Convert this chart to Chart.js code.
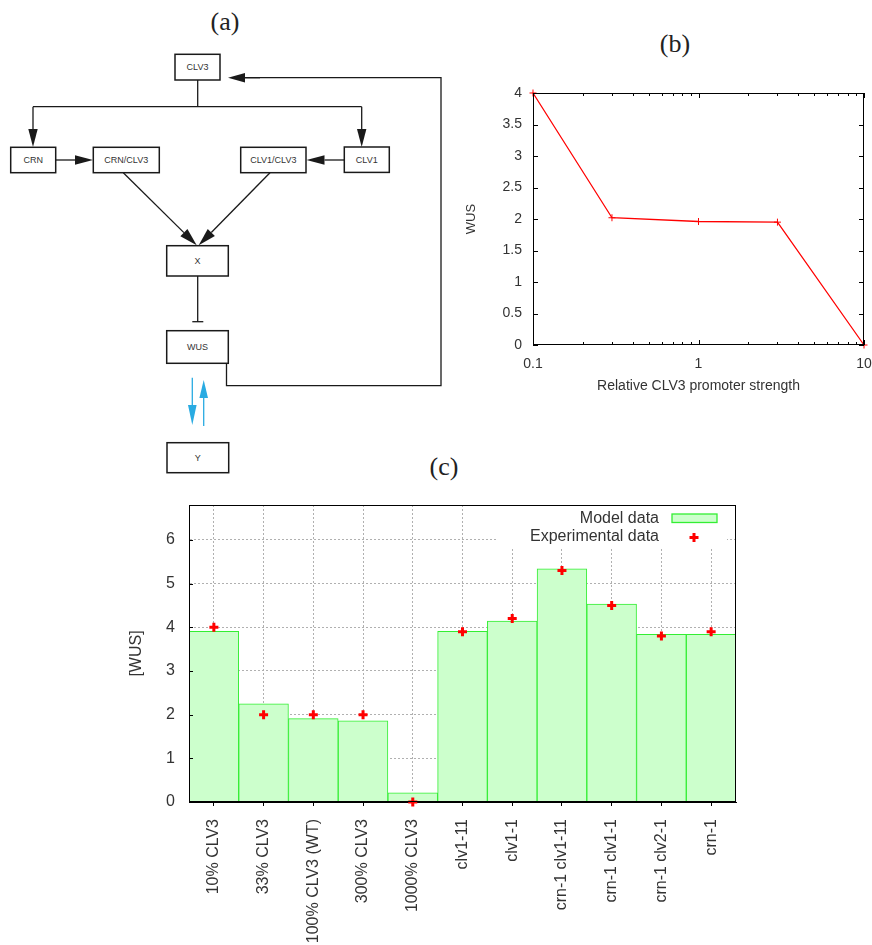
<!DOCTYPE html>
<html>
<head>
<meta charset="utf-8">
<script src="https://cdn.jsdelivr.net/npm/chart.js@4/dist/chart.umd.min.js"></script>
<style>
  html, body { margin: 0; padding: 0; background: #fff; }
  #page { position: relative; width: 872px; height: 945px; overflow: hidden; }
  .panel-title { position: absolute; font-family: 'Liberation Serif', 'DejaVu Serif', serif; font-size: 26px; color: #222;
                 transform: translate(-50%, -50%); line-height: 1; }
  canvas { position: absolute; }
  #diagram { position: absolute; left: 0; top: 0; }
</style>
</head>
<body>
<div id="page">
  <div class="panel-title" style="left:225px; top:22px;">(a)</div>
  <div class="panel-title" style="left:675px; top:44px;">(b)</div>
  <div class="panel-title" style="left:444px; top:467px;">(c)</div>
  <svg id="diagram" width="460" height="480" xmlns="http://www.w3.org/2000/svg"></svg>
  <canvas id="chartB" width="412" height="340" style="left:460px; top:70px;"></canvas>
  <canvas id="chartC" width="660" height="455" style="left:100px; top:490px;"></canvas>
</div>
<script>
// panel (b): WUS against relative CLV3 promoter strength
const promoterStrength = [0.1, 0.3, 1, 3, 10];
const wusResponse = [4.0, 2.02, 1.96, 1.95, 0.0];
const strengthTicks = [0.1, 1, 10];

// panel (c): model vs experiment per genotype
const genotypes = ['10% CLV3', '33% CLV3', '100% CLV3 (WT)', '300% CLV3', '1000% CLV3',
  'clv1-11', 'clv1-1', 'crn-1 clv1-11', 'crn-1 clv1-1', 'crn-1 clv2-1', 'crn-1'];
const modelWus = [3.91, 2.25, 1.91, 1.86, 0.21, 3.91, 4.14, 5.34, 4.53, 3.84, 3.84];
const experimentalWus = [4.0, 2.0, 2.0, 2.0, 0.0, 3.9, 4.2, 5.3, 4.5, 3.8, 3.9];

// ---- panel (a): network diagram ----
const svg = document.getElementById('diagram');
const NS = 'http://www.w3.org/2000/svg';
function el(tag, attrs, text) {
  const e = document.createElementNS(NS, tag);
  for (const k in attrs) e.setAttribute(k, attrs[k]);
  if (text) e.textContent = text;
  svg.appendChild(e);
  return e;
}
function node(label, x, y, w, h) {
  el('rect', { x, y, width: w, height: h, fill: '#fff', stroke: '#1a1a1a', 'stroke-width': 1.5 });
  el('text', { x: x + w / 2, y: y + h / 2 + 3, 'text-anchor': 'middle',
    'font-family': "'Liberation Sans', Arial, sans-serif", 'font-size': 9, fill: '#333' }, label);
}
function arrow(x1, y1, x2, y2, color, len, half) {
  const dx = x2 - x1, dy = y2 - y1, d = Math.hypot(dx, dy);
  const ux = dx / d, uy = dy / d;
  const bx = x2 - ux * len, by = y2 - uy * len;
  el('line', { x1, y1, x2: bx, y2: by, stroke: color, 'stroke-width': 1.3 });
  const pts = [[x2, y2], [bx - uy * half, by + ux * half], [bx + uy * half, by - ux * half]];
  el('polygon', { points: pts.map(p => p.join(',')).join(' '), fill: color });
}
const ink = '#1a1a1a';
el('polyline', { points: '197.7,80 197.7,106.7', fill: 'none', stroke: ink, 'stroke-width': 1.3 });
el('line', { x1: 33, y1: 106.7, x2: 361.7, y2: 106.7, stroke: ink, 'stroke-width': 1.3 });
arrow(33, 106.7, 33, 147, ink, 18, 4.7);
arrow(361.7, 106.7, 361.7, 147, ink, 18, 4.7);
arrow(55.7, 160, 93, 160, ink, 18, 4.7);
arrow(344.3, 160, 306.5, 160, ink, 18, 4.7);
arrow(123.3, 172.7, 196.7, 245.3, ink, 18, 5);
arrow(270, 172.7, 198.7, 245.3, ink, 18, 5);
el('line', { x1: 197.7, y1: 276, x2: 197.7, y2: 321.7, stroke: ink, 'stroke-width': 1.3 });
el('line', { x1: 192.3, y1: 321.7, x2: 203.3, y2: 321.7, stroke: ink, 'stroke-width': 1.3 });
el('polyline', { points: '226.5,363.3 226.5,385.7 441,385.7 441,77.7 244,77.7', fill: 'none', stroke: ink, 'stroke-width': 1.3 });
arrow(260, 77.7, 228, 77.7, ink, 17, 4.7);
arrow(192.3, 377.7, 192.3, 425, '#29abe2', 20, 4.3);
arrow(203.7, 426, 203.7, 380, '#29abe2', 18, 4.3);
node('CLV3', 175, 54.3, 45, 25.7);
node('CRN', 10.7, 147.3, 45, 25.4);
node('CRN/CLV3', 93.3, 147.3, 66, 25.4);
node('CLV1/CLV3', 240.7, 147.3, 65.3, 25.4);
node('CLV1', 344.3, 147, 45, 25.4);
node('X', 166.7, 245.7, 61.6, 30.3);
node('WUS', 166.7, 330.7, 61.6, 32.6);
node('Y', 167, 442.7, 61.7, 30);

// ---- charts ----
Chart.defaults.font.family = "'Liberation Sans', Arial, sans-serif";
Chart.defaults.color = '#333';

function line(ctx, x1, y1, x2, y2) {
  ctx.beginPath(); ctx.moveTo(x1, y1); ctx.lineTo(x2, y2); ctx.stroke();
}

// gnuplot style frame with inward ticks on all four sides (panel b)
const frameB = {
  id: 'frameB',
  afterDraw(chart) {
    const { ctx, chartArea: a, scales: { x, y } } = chart;
    ctx.save();
    ctx.strokeStyle = '#000';
    ctx.lineWidth = 1;
    ctx.strokeRect(a.left + 0.5, a.top + 0.5, a.width - 1, a.height - 1);
    y.ticks.forEach(t => {
      const py = Math.round(y.getPixelForValue(t.value)) + 0.5;
      line(ctx, a.left, py, a.left + 5, py);
      line(ctx, a.right, py, a.right - 5, py);
    });
    for (let d = x.min; d < x.max * 0.999; d *= 10) {
      for (let k = 1; k <= 10; k++) {
        const px = Math.round(x.getPixelForValue(d * k)) + 0.5;
        const len = (k === 1 || k === 10) ? 5 : 3;
        line(ctx, px, a.bottom, px, a.bottom - len);
        line(ctx, px, a.top, px, a.top + len);
      }
    }
    ctx.restore();
  }
};

new Chart(document.getElementById('chartB'), {
  type: 'scatter',
  data: {
    datasets: [{
      label: 'WUS',
      data: promoterStrength.map((s, i) => ({ x: s, y: wusResponse[i] })),
      showLine: true,
      borderColor: '#ff0000',
      backgroundColor: '#ff0000',
      borderWidth: 1.3,
      pointStyle: 'cross',
      pointRadius: 3.5,
      pointBorderWidth: 1,
      clip: false
    }]
  },
  options: {
    responsive: false,
    animation: false,
    events: [],
    layout: { padding: { top: 23, right: 8, left: 0, bottom: 0 } },
    plugins: { legend: { display: false }, tooltip: { enabled: false } },
    scales: {
      x: {
        type: 'logarithmic', min: 0.1, max: 10,
        grid: { display: false, drawTicks: false },
        border: { display: false },
        afterBuildTicks: s => { s.ticks = strengthTicks.map(v => ({ value: v })); },
        ticks: { callback: v => String(v), padding: 11, autoSkip: false, maxRotation: 0, font: { size: 14 } },
        title: { display: true, text: 'Relative CLV3 promoter strength', font: { size: 14 }, padding: { top: 0, bottom: 15 } },
        afterFit: s => { s.height = 65; s.paddingLeft = 0; s.paddingRight = 0; }
      },
      y: {
        min: 0, max: 4,
        grid: { display: false, drawTicks: false },
        border: { display: false },
        ticks: { stepSize: 0.5, padding: 11, font: { size: 14 }, callback: v => String(+v.toFixed(1)) },
        title: { display: true, text: 'WUS', font: { size: 13 }, padding: { top: 4, bottom: 0 } },
        afterFit: s => { s.width = 73; s.paddingTop = 0; s.paddingBottom = 0; }
      }
    }
  },
  plugins: [frameB]
});

// frame, inward y ticks and in-plot key (panel c)
const frameC = {
  id: 'frameC',
  beforeDatasetsDraw(chart) {
    const { ctx, chartArea: a } = chart;
    ctx.save();
    ctx.fillStyle = '#fff';
    ctx.fillRect(a.right - 239, a.top + 1, 230, 41);
    ctx.restore();
  },
  afterDatasetsDraw(chart) {
    const { ctx, chartArea: a, scales: { y } } = chart;
    const [bars, marks] = chart.data.datasets;
    ctx.save();
    ctx.strokeStyle = '#000';
    ctx.lineWidth = 1;
    ctx.strokeRect(a.left + 0.5, a.top + 0.5, a.width - 1, a.height - 1);
    y.ticks.forEach(t => {
      const py = Math.round(y.getPixelForValue(t.value)) + 0.5;
      line(ctx, a.left, py, a.left + 4, py);
    });
    ctx.font = "16px 'Liberation Sans', Arial, sans-serif";
    ctx.fillStyle = '#333';
    ctx.textAlign = 'right';
    ctx.textBaseline = 'middle';
    ctx.fillText(bars.label, a.right - 77, a.top + 14);
    ctx.fillText(marks.label, a.right - 77, a.top + 32);
    ctx.fillStyle = bars.backgroundColor;
    ctx.fillRect(a.right - 64, a.top + 9, 45, 8.5);
    ctx.strokeStyle = bars.borderColor;
    ctx.lineWidth = 1.3;
    ctx.strokeRect(a.right - 64, a.top + 9, 45, 8.5);
    ctx.strokeStyle = marks.borderColor;
    ctx.lineWidth = 3;
    const cx = a.right - 42, cy = a.top + 32.5;
    line(ctx, cx - 4.5, cy, cx + 4.5, cy);
    line(ctx, cx, cy - 4.5, cx, cy + 4.5);
    ctx.restore();
  }
};

new Chart(document.getElementById('chartC'), {
  type: 'bar',
  data: {
    labels: genotypes,
    datasets: [{
      type: 'bar',
      label: 'Model data',
      data: modelWus,
      backgroundColor: '#ccffcc',
      borderColor: '#33ee33',
      borderWidth: 1,
      barPercentage: 1,
      categoryPercentage: 1,
      order: 1
    }, {
      type: 'line',
      label: 'Experimental data',
      data: experimentalWus,
      showLine: false,
      pointStyle: 'cross',
      pointRadius: 4.5,
      pointBorderWidth: 3,
      borderColor: '#ff0000',
      backgroundColor: '#ff0000',
      clip: false,
      order: 0
    }]
  },
  options: {
    responsive: false,
    animation: false,
    events: [],
    layout: { padding: { top: 15, right: 24, left: 0, bottom: 0 } },
    plugins: { legend: { display: false }, tooltip: { enabled: false } },
    scales: {
      x: {
        grid: { offset: false, color: '#b0b0b0', tickLength: 4, tickColor: '#000', tickWidth: 1, tickBorderDash: [] },
        border: { color: '#000', dash: [2, 2] },
        ticks: { minRotation: 90, maxRotation: 90, autoSkip: false, padding: 13, font: { size: 16 } },
        afterFit: s => { s.height = 143; s.paddingLeft = 0; s.paddingRight = 0; }
      },
      y: {
        min: 0, max: 6.8,
        grid: { color: '#b0b0b0', drawTicks: false },
        border: { color: '#000', dash: [2, 2] },
        ticks: { stepSize: 1, includeBounds: false, padding: 14, font: { size: 16 } },
        title: { display: true, text: '[WUS]', font: { size: 16 }, padding: { top: 27, bottom: 0 } },
        afterFit: s => { s.width = 89; s.paddingTop = 0; s.paddingBottom = 0; }
      }
    }
  },
  plugins: [frameC]
});
</script>
</body>
</html>
